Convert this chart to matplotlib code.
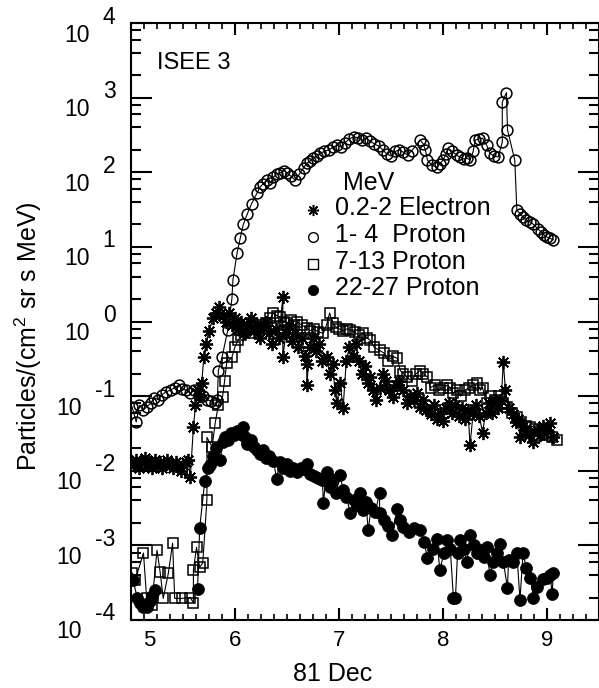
import numpy as np
import matplotlib
matplotlib.use("Agg")
import matplotlib.pyplot as plt
from matplotlib.ticker import FixedLocator, NullFormatter, MultipleLocator
import matplotlib.transforms as mtransforms

plt.rcParams['font.family'] = ['Liberation Sans', 'DejaVu Sans']
plt.rcParams['mathtext.fontset'] = 'custom'
plt.rcParams['mathtext.rm'] = 'Liberation Sans'
plt.rcParams['mathtext.it'] = 'Liberation Sans:italic'

# ---------------- data (day of Dec 1981, flux) ----------------
# 1-4 MeV protons (open circles)
t_p1 = [5.01,5.05,5.08,5.12,5.15,5.19,5.22,5.26,5.30,5.34,5.38,5.42,5.46,5.49,5.53,5.57,5.61,5.65,5.69,5.73,
        5.77,5.81,5.83,5.84,5.875,5.93,5.97,5.98,6.02,6.05,6.08,6.12,6.16,6.21,6.24,6.27,6.31,6.34,6.37,6.40,
        6.43,6.47,6.50,6.54,6.58,6.62,6.66,6.69,6.72,6.75,6.79,6.82,6.86,6.90,6.94,6.98,7.02,7.06,7.10,7.14,
        7.18,7.22,7.26,7.30,7.34,7.38,7.42,7.46,7.50,7.54,7.58,7.62,7.66,7.70,7.78,7.81,7.83,7.85,7.89,7.94,
        7.97,8.00,8.03,8.05,8.09,8.13,8.16,8.20,8.23,8.26,8.29,8.31,8.35,8.38,8.42,8.45,8.49,8.53,8.57,8.57,
        8.61,8.62,8.69,8.71,8.74,8.77,8.80,8.84,8.87,8.91,8.94,8.97,9.00,9.03,9.06]
f_p1 = [0.072,0.045,0.075,0.065,0.072,0.080,0.095,0.090,0.105,0.115,0.12,0.13,0.14,0.125,0.12,0.11,0.12,0.105,0.10,0.09,
        0.085,0.08,0.088,0.22,0.33,0.76,2.0,3.6,8.3,13,20,28,38,52,63,70,78,72,86,95,
        98,105,98,88,78,95,115,132,140,155,165,180,190,200,215,230,220,250,280,300,
        290,270,290,260,240,225,200,175,165,190,200,185,170,195,270,240,200,146,125,117,
        130,146,175,210,190,170,160,150,155,146,190,270,280,287,230,180,165,160,253,870,
        1170,370,146,31,28,25,23,21.5,20,17.5,16,14.5,13.5,13,12.5]

# 0.2-2 MeV electrons (asterisks)
t_e = [5.00,5.03,5.05,5.08,5.10,5.13,5.15,5.18,5.20,5.23,5.25,5.28,5.30,5.33,5.35,5.38,5.40,5.43,5.45,5.48,
       5.50,5.53,5.55,5.57,5.60,5.62,5.64,5.66,5.68,5.70,5.72,5.75,5.79,5.82,5.85,5.88,5.91,5.94,5.97,6.00,
       6.03,6.06,6.09,6.12,6.15,6.18,6.21,6.24,6.27,6.30,6.33,6.36,6.39,6.42,6.46,6.46,6.49,6.52,6.55,6.58,
       6.61,6.64,6.67,6.69,6.69,6.72,6.75,6.78,6.81,6.84,6.88,6.91,6.94,6.96,6.98,7.01,7.04,7.07,7.10,7.13,
       7.16,7.19,7.22,7.25,7.28,7.30,7.33,7.36,7.39,7.42,7.45,7.48,7.52,7.55,7.58,7.62,7.65,7.68,7.72,7.75,
       7.78,7.81,7.84,7.88,7.91,7.94,7.97,8.00,8.03,8.06,8.09,8.12,8.15,8.18,8.21,8.24,8.26,8.29,8.32,8.35,
       8.38,8.41,8.44,8.47,8.50,8.53,8.56,8.58,8.60,8.63,8.67,8.70,8.72,8.74,8.77,8.80,8.83,8.87,8.90,8.93,
       8.96,9.00,9.03,9.06]
f_e = [0.013,0.012,0.014,0.011,0.013,0.015,0.012,0.013,0.011,0.014,0.012,0.013,0.011,0.012,0.014,0.012,0.011,0.013,0.012,0.010,
       0.012,0.013,0.014,0.0082,0.038,0.075,0.12,0.10,0.15,0.33,0.50,0.75,1.1,1.3,1.55,1.2,1.0,1.3,0.9,1.1,
       0.8,1.0,0.7,0.9,1.1,0.75,0.9,0.6,0.85,1.0,0.7,0.5,0.8,0.6,2.1,0.33,0.7,0.9,0.55,0.7,
       0.45,0.6,0.35,0.27,0.14,0.45,0.6,0.4,0.5,0.3,0.33,0.2,0.27,0.12,0.08,0.15,0.07,0.3,0.45,0.35,
       0.5,0.3,0.2,0.25,0.15,0.18,0.12,0.09,0.13,0.2,0.16,0.12,0.097,0.14,0.16,0.12,0.08,0.1,0.09,0.11,
       0.071,0.09,0.065,0.058,0.075,0.05,0.06,0.047,0.07,0.08,0.06,0.075,0.055,0.07,0.05,0.065,0.022,0.06,0.075,0.055,
       0.032,0.06,0.08,0.06,0.09,0.07,0.09,0.29,0.12,0.07,0.058,0.045,0.05,0.028,0.04,0.035,0.03,0.024,0.035,0.03,
       0.04,0.035,0.044,0.028]

# 7-13 MeV protons (open squares)
t_p2 = [5.01,5.04,5.12,5.15,5.20,5.25,5.28,5.31,5.36,5.40,5.42,5.49,5.57,5.60,5.60,5.63,5.66,5.69,5.73,5.73,
        5.78,5.81,5.84,5.88,5.90,5.92,5.97,6.00,6.03,6.06,6.09,6.12,6.15,6.18,6.21,6.24,6.27,6.30,6.34,6.37,
        6.40,6.43,6.47,6.50,6.54,6.57,6.60,6.64,6.69,6.72,6.76,6.80,6.85,6.88,6.91,6.94,6.97,7.00,7.04,7.08,
        7.11,7.15,7.19,7.23,7.27,7.30,7.34,7.39,7.43,7.47,7.52,7.56,7.59,7.62,7.65,7.70,7.74,7.78,7.81,7.85,
        7.88,7.92,7.96,8.00,8.04,8.07,8.10,8.13,8.17,8.21,8.25,8.29,8.33,8.36,8.38,8.42,8.46,8.50,8.54,8.58,
        8.62,8.66,8.71,8.75,8.80,8.84,8.88,8.92,8.96,9.00,9.05,9.10]
f_p2 = [4.3e-4,3.4e-4,7.9e-4,2.0e-4,1.6e-4,8.6e-4,4.4e-4,1.95e-4,4.3e-4,1.07e-3,1.95e-4,1.95e-4,2.0e-4,1.7e-4,4.7e-4,9.4e-4,5.1e-4,5.8e-4,4.1e-3,0.028,
        0.021,0.044,0.076,0.097,0.16,0.28,0.33,0.46,0.56,0.65,0.75,0.8,0.7,0.85,0.8,0.9,0.85,0.95,1.1,1.3,
        1.2,1.15,1.0,0.95,1.05,0.9,0.98,0.9,0.82,0.75,0.8,0.72,0.70,0.9,1.3,0.95,0.85,0.8,0.75,0.8,
        0.77,0.72,0.65,0.70,0.6,0.56,0.45,0.41,0.38,0.3,0.34,0.32,0.22,0.2,0.18,0.16,0.2,0.22,0.2,0.18,
        0.13,0.14,0.12,0.13,0.14,0.13,0.11,0.12,0.1,0.12,0.13,0.14,0.15,0.12,0.13,0.08,0.1,0.09,0.1,0.08,
        0.071,0.06,0.052,0.045,0.04,0.038,0.036,0.03,0.032,0.03,0.028,0.026]

# 22-27 MeV protons (filled circles); nan = no data on scale
t_p3 = [5.02,5.06,5.09,5.12,5.15,5.18,5.20,5.23,5.40,5.64,5.66,5.71,5.74,5.76,5.79,5.82,5.86,5.88,5.90,5.93,
        5.96,5.99,6.02,6.05,6.08,6.10,6.12,6.15,6.18,6.21,6.24,6.27,6.30,6.33,6.37,6.40,6.43,6.46,6.50,6.53,
        6.56,6.60,6.63,6.66,6.69,6.72,6.76,6.80,6.84,6.85,6.88,6.91,6.94,6.97,7.01,7.04,7.07,7.11,7.14,7.17,
        7.20,7.23,7.26,7.28,7.31,7.35,7.39,7.39,7.43,7.47,7.51,7.56,7.59,7.62,7.67,7.72,7.78,7.82,7.85,7.90,
        7.94,7.97,8.01,8.04,8.07,8.10,8.12,8.14,8.16,8.20,8.23,8.26,8.30,8.33,8.36,8.39,8.42,8.45,8.48,8.52,
        8.55,8.58,8.62,8.63,8.67,8.71,8.74,8.77,8.80,8.84,8.87,8.90,8.96,9.00,9.03,9.05,9.06]
f_p3 = [3.4e-4,2.0e-4,1.7e-4,1.5e-4,1.5e-4,1.8e-4,2.1e-4,2.5e-4,np.nan,2.6e-4,1.7e-3,7.4e-3,0.011,0.012,0.016,0.020,0.014,0.024,0.028,0.026,
        0.032,0.030,0.034,0.031,0.038,0.028,0.023,0.026,0.021,0.019,0.017,0.019,0.015,0.016,0.0136,0.0078,0.013,0.011,0.0122,0.010,
        0.011,0.0095,0.011,0.0105,0.0122,0.009,0.0085,0.008,0.0075,0.0037,0.0097,0.006,0.0075,0.005,0.0087,0.0055,0.0045,0.0027,0.004,0.0035,
        0.0051,0.003,0.0038,0.0016,0.0032,0.0028,0.0051,0.0027,0.0022,0.0018,0.00137,0.0031,0.0022,0.00175,0.0015,0.0017,0.0016,0.0011,0.00067,0.0009,
        0.0012,0.00047,0.0008,0.00117,0.0009,0.0002,0.0002,0.0008,0.00117,0.0009,0.0006,0.00137,0.001,0.0008,0.00086,0.0007,0.00094,0.0004,0.0006,0.0008,
        0.00104,0.0006,0.00027,0.00063,0.0006,0.0008,0.000185,0.0008,0.0005,0.00037,0.0002,0.00028,0.00035,0.00037,0.0004,0.00022,0.00042]

x_ticks = [5, 6, 7, 8, 9]
x_tick_labels = ['5', '6', '7', '8', '9']
y_exponents = [-4, -3, -2, -1, 0, 1, 2, 3, 4]

legend_labels = ['0.2-2 Electron', '1- 4  Proton', '7-13 Proton', '22-27 Proton']

# ---------------- figure ----------------
W, H = 599, 688
fig = plt.figure(figsize=(W / 100, H / 100), dpi=100)
ax = fig.add_axes([131 / W, (H - 620) / H, 468 / W, 597 / H])
ax.set_yscale('log')
ax.set_xlim(5.0, 9.5)
ax.set_ylim(1e-4, 1e4)

lw = 0.8
ax.plot(t_e, f_e, color='black', lw=lw, marker=(8, 2, 0), ms=9.5, mew=1.3, mfc='black', mec='black')
ax.plot(t_p1, f_p1, color='black', lw=lw, marker='o', ms=7.8, mew=1.1, mfc='none', mec='black')
ax.plot(t_p2, f_p2, color='black', lw=lw, marker='s', ms=7.3, mew=1.1, mfc='none', mec='black')
ax.plot(t_p3, f_p3, color='black', lw=lw, marker='o', ms=8.6, mew=0.5, mfc='black', mec='black')

for s in ax.spines.values():
    s.set_linewidth(1.5)

# y ticks
ax.yaxis.set_major_locator(FixedLocator([10.0 ** k for k in y_exponents]))
ax.yaxis.set_minor_locator(FixedLocator([m * 10.0 ** k for k in y_exponents[:-1] for m in (2, 4, 6, 8)]))
ax.yaxis.set_major_formatter(NullFormatter())
ax.yaxis.set_minor_formatter(NullFormatter())
ax.tick_params(axis='y', which='major', direction='in', length=15, width=1.5, left=True, right=True)
ax.tick_params(axis='y', which='minor', direction='in', length=7, width=1.5, left=True, right=True)

# x ticks
ax.xaxis.set_major_locator(FixedLocator(x_ticks))
ax.xaxis.set_minor_locator(MultipleLocator(0.125))
ax.set_xticklabels([''] + x_tick_labels[1:])
ax.tick_params(axis='x', which='major', direction='in', length=8.5, width=1.5, top=True, bottom=True,
               labelsize=16, pad=7)
ax.tick_params(axis='x', which='minor', direction='in', length=4, width=1.2, top=True, bottom=True)
# first label sits right of the axis corner
ax.text(5.0 + 18 / 104, (620 - 641) / 597, x_tick_labels[0], transform=ax.get_xaxis_transform(),
        ha='center', va='center', fontsize=16)

# y tick labels: "10" with raised exponent
ytr = ax.get_yaxis_transform()
for k in y_exponents:
    base_x = (77 - 131) / 468 if k >= 0 else (69 - 131) / 468
    exp_x = (109 - 131) / 468 if k >= 0 else (105 - 131) / 468
    tb = mtransforms.offset_copy(ytr, fig=fig, x=0, y=-12, units='dots')
    te = mtransforms.offset_copy(ytr, fig=fig, x=0, y=6, units='dots')
    ax.text(base_x, 10.0 ** k, '10', transform=tb, ha='center', va='center', fontsize=16.5, clip_on=False)
    ax.text(exp_x, 10.0 ** k, str(k), transform=te, ha='center', va='center', fontsize=16.5, clip_on=False)

ax.set_ylabel('Particles/(cm$^2$ sr s MeV)', fontsize=18, va='center')
ax.yaxis.set_label_coords((28 - 131) / 468, (620 - 336) / 597)
ax.set_xlabel('81 Dec', fontsize=18, va='center')
ax.xaxis.set_label_coords((333 - 131) / 468, (620 - 674) / 597)

def axf(px, py):
    return (px - 131) / 468, (620 - py) / 597

ax.text(*axf(157, 63), 'ISEE 3', transform=ax.transAxes, ha='left', va='center', fontsize=17)

# legend
ax.text(*axf(343, 183), 'MeV', transform=ax.transAxes, ha='left', va='center', fontsize=18)
rows_y = [208, 235, 262, 288]
leg_markers = [dict(marker=(8, 2, 0), ms=8, mew=1.1, mfc='black', mec='black'),
               dict(marker='o', ms=7, mew=1.0, mfc='none', mec='black'),
               dict(marker='s', ms=7, mew=1.0, mfc='none', mec='black'),
               dict(marker='o', ms=7.5, mew=0.5, mfc='black', mec='black')]
for lab, yy, mk in zip(legend_labels, rows_y, leg_markers):
    mx, my = axf(313, yy + 2)
    ax.plot([mx], [my], transform=ax.transAxes, linestyle='none', clip_on=False, **mk)
    ax.text(*axf(335, yy), lab, transform=ax.transAxes, ha='left', va='center', fontsize=18)

fig.savefig('out.png', dpi=100)
